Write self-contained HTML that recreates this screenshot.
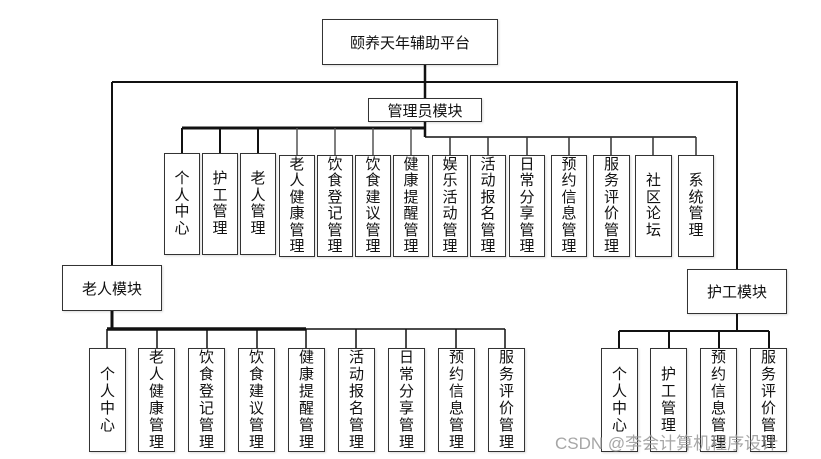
<!DOCTYPE html>
<html><head><meta charset="utf-8"><style>
html,body{margin:0;padding:0;background:#fff;width:821px;height:459px;overflow:hidden;position:relative;font-family:"Liberation Sans","Noto Sans CJK SC",sans-serif;}
.b{position:absolute;box-sizing:border-box;border:1.5px solid #333;background:#fff;display:flex;align-items:center;justify-content:center;font-size:15px;color:#111;box-shadow:1px 1px 2px rgba(0,0,0,.15);overflow:hidden;}
.v{display:block;width:15px;word-break:break-all;font-size:15px;line-height:17px;text-align:center;}
.t .v{line-height:16.5px;}
svg{position:absolute;left:0;top:0;}
.wm{position:absolute;left:555px;top:429px;font-size:17px;color:rgba(150,150,150,.85);white-space:nowrap;}
</style></head><body>
<svg width="821" height="459">
<g stroke="#111" fill="none">
<path d="M425 65 V137" stroke-width="2.5"/>
<path d="M112 82 H737 V269" stroke-width="2"/>
<path d="M112 82 V265" stroke-width="2"/>
<path d="M182 128 H425" stroke-width="3"/>
<path d="M182 128 V153 M220 128 V153 M258 128 V153" stroke-width="2"/>
<path d="M297 128 V155 M335 128 V155 M373 128 V155 M411 128 V155" stroke="#555" stroke-width="1.5"/>
<path d="M425 137 H696" stroke-width="1.5"/>
<path d="M450 137 V155 M488 137 V155 M527 137 V155 M569 137 V155 M611 137 V155 M653 137 V155 M696 137 V155" stroke="#333" stroke-width="1.5"/>
<path d="M112 311 V329" stroke-width="3"/>
<path d="M107 329 H306" stroke-width="3.5"/>
<path d="M306 329 H505" stroke-width="1.5"/>
<path d="M107 329 V348 M157 329 V348 M207 329 V348 M257 329 V348 M306 329 V348 M356 329 V348 M406 329 V348 M456 329 V348 M505 329 V348" stroke-width="1.5"/>
<path d="M737 314 V331 M619 331 H769 M619 331 V348 M669 331 V348 M719 331 V348 M769 331 V348" stroke-width="2"/>
</g>
</svg>
<div class="b" style="left:322px;top:19px;width:176px;height:46px;">颐养天年辅助平台</div>
<div class="b" style="left:368px;top:98px;width:114px;height:24px;">管理员模块</div>
<div class="b" style="left:62px;top:265px;width:100px;height:46px;">老人模块</div>
<div class="b" style="left:687px;top:269px;width:100px;height:45px;">护工模块</div>

<div class="b t" style="left:164px;top:153px;width:36px;height:102px;"><span class="v">个人中心</span></div>
<div class="b t" style="left:202px;top:153px;width:36px;height:102px;"><span class="v">护工管理</span></div>
<div class="b t" style="left:240px;top:153px;width:36px;height:102px;"><span class="v">老人管理</span></div>
<div class="b t" style="left:279px;top:155px;width:36px;height:102px;"><span class="v">老人健康管理</span></div>
<div class="b t" style="left:317px;top:155px;width:36px;height:102px;"><span class="v">饮食登记管理</span></div>
<div class="b t" style="left:355px;top:155px;width:36px;height:102px;"><span class="v">饮食建议管理</span></div>
<div class="b t" style="left:393px;top:155px;width:36px;height:102px;"><span class="v">健康提醒管理</span></div>
<div class="b t" style="left:432px;top:155px;width:36px;height:102px;"><span class="v">娱乐活动管理</span></div>
<div class="b t" style="left:470px;top:155px;width:36px;height:102px;"><span class="v">活动报名管理</span></div>
<div class="b t" style="left:509px;top:155px;width:36px;height:102px;"><span class="v">日常分享管理</span></div>
<div class="b t" style="left:551px;top:155px;width:36px;height:102px;"><span class="v">预约信息管理</span></div>
<div class="b t" style="left:593px;top:155px;width:37px;height:102px;"><span class="v">服务评价管理</span></div>
<div class="b t" style="left:635px;top:155px;width:37px;height:102px;"><span class="v">社区论坛</span></div>
<div class="b t" style="left:678px;top:155px;width:36px;height:102px;"><span class="v">系统管理</span></div>

<div class="b" style="left:89px;top:348px;width:37px;height:104px;"><span class="v">个人中心</span></div>
<div class="b" style="left:138px;top:348px;width:37px;height:104px;"><span class="v">老人健康管理</span></div>
<div class="b" style="left:188px;top:348px;width:37px;height:104px;"><span class="v">饮食登记管理</span></div>
<div class="b" style="left:238px;top:348px;width:37px;height:104px;"><span class="v">饮食建议管理</span></div>
<div class="b" style="left:288px;top:348px;width:37px;height:104px;"><span class="v">健康提醒管理</span></div>
<div class="b" style="left:338px;top:348px;width:37px;height:104px;"><span class="v">活动报名管理</span></div>
<div class="b" style="left:388px;top:348px;width:37px;height:104px;"><span class="v">日常分享管理</span></div>
<div class="b" style="left:438px;top:348px;width:37px;height:104px;"><span class="v">预约信息管理</span></div>
<div class="b" style="left:488px;top:348px;width:37px;height:104px;"><span class="v">服务评价管理</span></div>

<div class="b" style="left:601px;top:348px;width:37px;height:104px;"><span class="v">个人中心</span></div>
<div class="b" style="left:650px;top:348px;width:37px;height:104px;"><span class="v">护工管理</span></div>
<div class="b" style="left:700px;top:348px;width:37px;height:104px;"><span class="v">预约信息管理</span></div>
<div class="b" style="left:750px;top:348px;width:37px;height:104px;"><span class="v">服务评价管理</span></div>

<div class="wm">CSDN @李会计算机程序设计</div>
</body></html>
